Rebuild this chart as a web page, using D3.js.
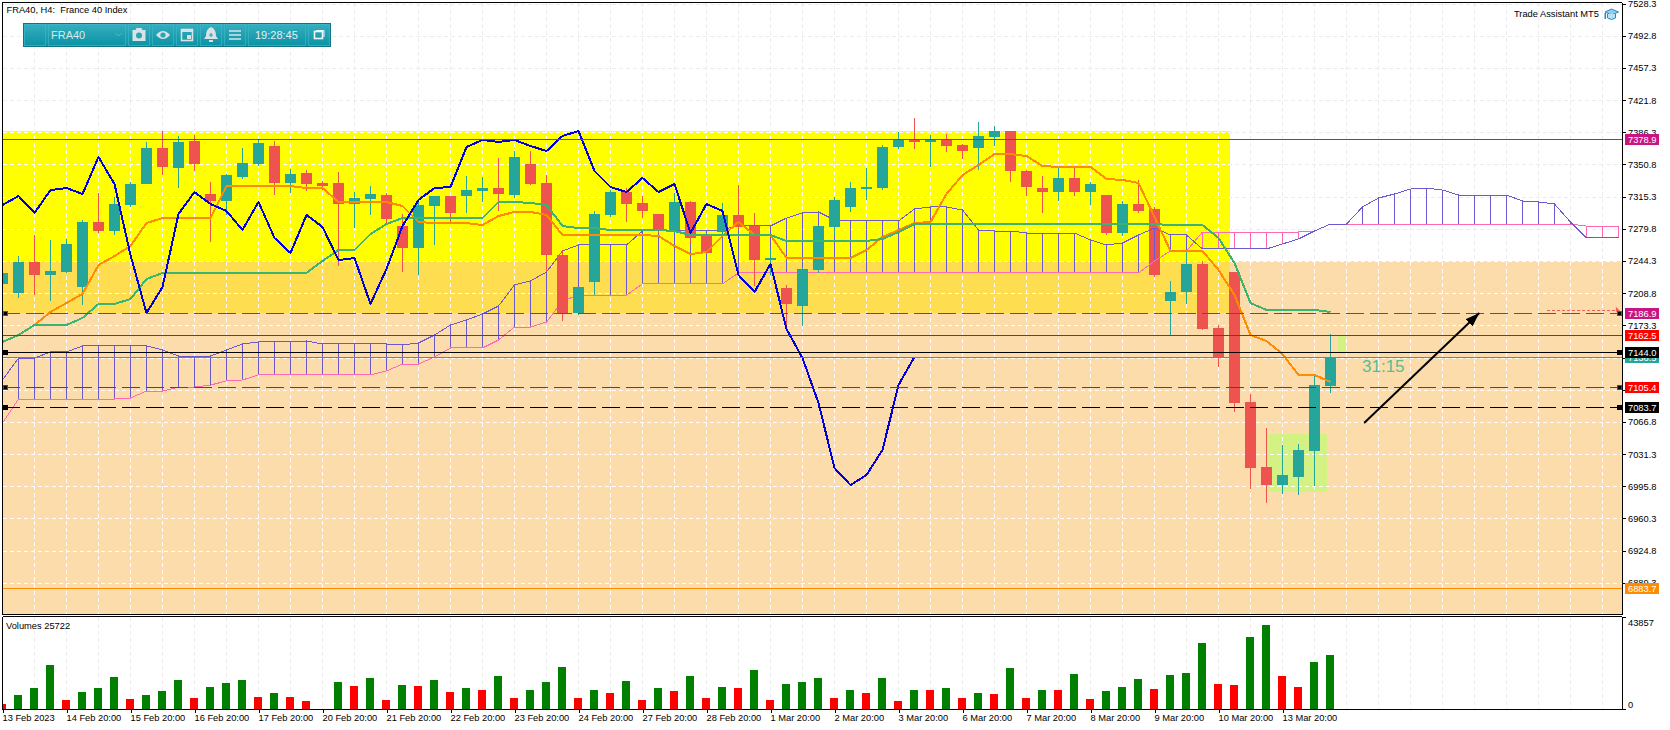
<!DOCTYPE html>
<html><head><meta charset="utf-8"><style>
html,body{margin:0;padding:0;background:#fff}
svg{display:block}
text{font-family:"Liberation Sans",Arial,sans-serif;font-size:9.3px;fill:#000}
</style>
<script src="https://cdn.jsdelivr.net/npm/d3@7"></script></head><body><div id="c"></div>
<script>
const opens=[7218.9,7209.0,7243.2,7228.9,7232.2,7215.6,7287.3,7277.4,7306.1,7329.2,7369.0,7346.9,7376.7,7318.2,7310.5,7337.0,7351.3,7371.2,7330.4,7341.4,7330.4,7330.4,7307.2,7312.7,7317.1,7282.9,7258.7,7305.0,7316.0,7316.0,7321.5,7324.8,7317.1,7351.3,7330.4,7250.9,7186.9,7221.2,7295.1,7320.4,7308.3,7296.2,7278.5,7309.4,7273.0,7276.3,7295.1,7282.9,7245.4,7214.5,7194.7,7234.4,7281.8,7303.9,7323.7,7324.8,7370.1,7377.8,7375.6,7377.8,7372.3,7369.0,7381.1,7387.7,7343.6,7324.8,7320.4,7335.9,7320.4,7317.1,7275.2,7307.2,7301.7,7200.2,7210.1,7241.0,7170.4,7232.2,7088.8,7017.1,6997.2,7006.1,7034.8,7106.4];
const closes=[7231.1,7243.2,7228.9,7233.3,7263.1,7287.3,7277.4,7307.2,7329.2,7369.0,7348.0,7375.6,7351.3,7310.5,7339.2,7352.4,7374.5,7330.4,7340.3,7329.2,7327.0,7307.2,7313.8,7318.2,7290.6,7258.7,7306.1,7316.0,7297.3,7322.6,7324.8,7318.2,7359.0,7329.2,7250.9,7186.9,7215.6,7296.2,7320.4,7307.2,7299.5,7278.5,7309.4,7269.7,7253.1,7295.1,7281.8,7245.4,7247.6,7196.9,7235.5,7282.9,7311.6,7324.8,7325.9,7370.1,7377.8,7375.6,7377.8,7371.2,7365.6,7382.2,7387.7,7343.6,7325.9,7320.4,7335.9,7320.4,7329.2,7275.2,7307.2,7299.5,7228.9,7210.1,7241.0,7169.3,7137.3,7087.7,7016.0,6997.2,7008.3,7035.9,7107.5,7138.5];
const highs=[7236.6,7249.8,7273.0,7267.5,7268.6,7289.5,7319.3,7314.9,7331.5,7375.6,7387.7,7382.2,7383.3,7331.5,7340.3,7369.0,7377.8,7376.7,7345.8,7344.7,7332.6,7342.5,7320.4,7327.0,7319.3,7296.2,7311.6,7316.0,7316.0,7338.1,7337.0,7357.9,7365.6,7365.6,7339.2,7256.5,7215.6,7299.5,7322.6,7324.8,7316.0,7296.2,7319.3,7310.5,7273.0,7308.3,7328.1,7297.3,7256.5,7217.9,7237.7,7282.9,7314.9,7331.5,7346.9,7372.3,7386.6,7402.0,7383.3,7384.4,7373.4,7397.6,7393.2,7387.7,7344.7,7338.1,7346.9,7346.9,7331.5,7317.1,7310.5,7333.7,7303.9,7222.3,7254.2,7244.3,7173.7,7232.2,7097.6,7060.1,7041.4,7042.5,7117.5,7163.8];
const lows=[7214.5,7203.5,7206.8,7200.2,7231.1,7195.8,7275.2,7273.0,7303.9,7329.2,7339.2,7324.8,7343.6,7265.3,7295.1,7334.8,7349.1,7317.1,7319.3,7321.5,7322.6,7238.8,7280.7,7295.1,7285.1,7232.2,7228.9,7262.0,7287.3,7297.3,7309.4,7299.5,7313.8,7328.1,7232.2,7178.1,7184.8,7206.8,7292.8,7287.3,7291.7,7275.2,7275.2,7264.2,7253.1,7275.2,7278.5,7216.7,7228.9,7172.6,7172.6,7231.1,7273.0,7298.4,7311.6,7322.6,7367.9,7367.9,7348.0,7364.5,7356.8,7344.7,7371.2,7331.5,7316.0,7297.3,7310.5,7316.0,7306.1,7273.0,7271.9,7297.3,7226.7,7162.7,7196.9,7168.2,7127.4,7077.8,6992.8,6977.4,6987.3,6986.2,6996.1,7098.7];
const tenkan=[7155.0,7162.7,7173.7,7188.1,7198.0,7208.0,7239.9,7249.8,7260.9,7286.2,7291.7,7291.7,7291.7,7291.7,7327.0,7327.0,7327.0,7327.0,7327.0,7324.8,7324.8,7309.4,7309.4,7309.4,7309.4,7305.0,7287.3,7286.2,7286.2,7286.2,7284.0,7293.9,7298.4,7298.4,7295.1,7273.0,7273.0,7273.0,7273.0,7273.0,7273.0,7271.9,7260.9,7252.0,7254.2,7271.9,7287.3,7273.0,7273.0,7247.6,7247.6,7247.6,7247.6,7247.6,7256.5,7270.8,7278.5,7286.2,7287.3,7318.2,7339.2,7350.2,7362.3,7362.3,7360.1,7349.1,7348.0,7348.0,7348.0,7334.8,7333.7,7330.4,7292.8,7255.4,7255.4,7255.4,7234.4,7206.8,7162.7,7156.1,7141.7,7118.6,7118.6,7110.9];
const kijun=[7155.0,7162.7,7173.7,7173.7,7173.7,7181.5,7196.9,7196.9,7202.4,7224.4,7231.1,7231.1,7231.1,7231.1,7231.1,7231.1,7231.1,7231.1,7231.1,7231.1,7244.3,7256.5,7256.5,7274.1,7285.1,7291.7,7291.7,7291.7,7291.7,7291.7,7291.7,7309.4,7309.4,7308.3,7306.1,7282.9,7280.7,7280.7,7278.5,7278.5,7278.5,7278.5,7277.4,7273.0,7273.0,7273.0,7273.0,7273.0,7273.0,7266.4,7266.4,7266.4,7266.4,7266.4,7266.4,7268.6,7276.3,7285.1,7285.1,7285.1,7285.1,7285.1,7285.1,7285.1,7285.1,7285.1,7285.1,7285.1,7285.1,7285.1,7285.1,7285.1,7285.1,7284.0,7284.0,7284.0,7269.7,7242.1,7198.0,7190.3,7190.3,7190.3,7190.3,7188.1];
const chikou=[7306.1,7316.0,7297.3,7322.6,7324.8,7318.2,7359.0,7329.2,7250.9,7186.9,7215.6,7296.2,7320.4,7307.2,7299.5,7278.5,7309.4,7269.7,7253.1,7295.1,7281.8,7245.4,7247.6,7196.9,7235.5,7282.9,7311.6,7324.8,7325.9,7370.1,7377.8,7375.6,7377.8,7371.2,7365.6,7382.2,7387.7,7343.6,7325.9,7320.4,7335.9,7320.4,7329.2,7275.2,7307.2,7299.5,7228.9,7210.1,7241.0,7169.3,7137.3,7087.7,7016.0,6997.2,7008.3,7035.9,7107.5,7138.5];
const senkouA=[7113.1,7137.3,7137.3,7144.0,7144.0,7150.6,7150.6,7150.6,7150.6,7150.6,7146.2,7139.5,7139.5,7139.5,7146.2,7152.8,7155.0,7155.0,7155.0,7156.1,7152.8,7152.8,7152.8,7152.8,7152.8,7151.7,7153.9,7162.7,7173.7,7179.2,7185.9,7194.7,7217.9,7222.3,7232.2,7255.4,7262.0,7262.0,7262.0,7262.0,7277.4,7278.5,7278.5,7278.5,7278.5,7278.5,7284.0,7284.0,7282.9,7291.7,7297.3,7298.4,7289.5,7289.5,7289.5,7289.5,7288.4,7301.7,7303.9,7303.9,7300.6,7278.5,7277.4,7277.4,7275.2,7275.2,7275.2,7275.2,7267.5,7262.0,7264.2,7273.0,7280.7,7273.0,7273.0,7257.6,7257.6,7257.6,7257.6,7257.6,7263.1,7268.6,7277.4,7285.1,7285.1,7303.9,7313.8,7318.2,7323.7,7324.8,7322.6,7317.1,7317.1,7317.1,7317.1,7310.5,7309.4,7307.2,7287.3,7269.7,7269.7,7269.7];
const senkouB=[7065.6,7092.1,7092.1,7092.1,7092.1,7092.1,7092.1,7092.1,7093.2,7100.9,7100.9,7105.3,7105.3,7107.5,7112.0,7113.1,7118.6,7118.6,7118.6,7118.6,7118.6,7118.6,7118.6,7118.6,7123.0,7130.7,7130.7,7138.4,7148.4,7148.4,7148.4,7157.2,7171.5,7171.5,7177.0,7200.2,7206.8,7206.8,7206.8,7206.8,7219.1,7219.1,7219.1,7219.1,7219.1,7219.1,7231.1,7231.1,7231.1,7231.1,7231.1,7231.1,7231.1,7231.1,7231.1,7231.1,7231.1,7231.1,7231.1,7231.1,7231.1,7231.1,7231.1,7231.1,7231.1,7231.1,7231.1,7231.1,7231.1,7231.1,7231.1,7231.1,7244.3,7255.4,7255.4,7276.3,7276.3,7276.3,7276.3,7276.3,7276.3,7276.3,7277.4,7285.1,7285.1,7285.1,7285.1,7285.1,7285.1,7285.1,7285.1,7285.1,7285.1,7285.1,7285.1,7285.1,7285.1,7285.1,7285.1,7282.9,7282.9,7282.9];
const volumes=[2388,6686,10030,21014,4298,8119,10030,15283,4776,6686,8597,13850,5254,10507,12418,13850,5731,7642,5731,3821,0,12895,10985,14806,4298,11462,10985,13850,8119,10030,9074,15761,5254,9074,12895,20059,5254,9074,7642,13373,4298,10030,8597,15761,5254,10507,10030,18626,4298,11940,12895,14806,5254,9074,7642,14806,3821,9074,9074,10030,5254,7642,7164,19582,5254,9074,9074,16716,4776,8597,10507,14328,9552,16238,17194,31522,11940,11462,34387,40118,15761,10507,22447,25722];
const volumeDown=[0,4,8,12,16,18,19,22,24,26,28,30,32,36,38,40,42,44,46,48,52,54,56,58,60,62,64,66,68,72,76,77,80,81];
const priceTicks=[7528.3,7492.8,7457.3,7421.8,7386.3,7350.8,7315.3,7279.8,7244.3,7208.8,7173.3,7137.8,7102.3,7066.8,7031.3,6995.8,6960.3,6924.8,6889.3];
const volumeTicks=[0,43857];
const dateTickIdx=[0,4,8,12,16,20,24,28,32,36,40,44,48,52,56,60,64,68,72,76,80];
const dateLabels=["13 Feb 2023","14 Feb 20:00","15 Feb 20:00","16 Feb 20:00","17 Feb 20:00","20 Feb 20:00","21 Feb 20:00","22 Feb 20:00","23 Feb 20:00","24 Feb 20:00","27 Feb 20:00","28 Feb 20:00","1 Mar 20:00","2 Mar 20:00","3 Mar 20:00","6 Mar 20:00","7 Mar 20:00","8 Mar 20:00","9 Mar 20:00","10 Mar 20:00","13 Mar 20:00"];
const levelValues=[7378.9,7186.9,7162.5,7138.5,7144.0,7105.4,7083.7,6883.7];
const levelColors=["#C71585","#C71585","#FF0000","#26A69A","#000000","#FF0000","#000000","#FF8C00"];
const levelDashed=[false,true,false,false,false,true,true,false];
const markerLevels=[7186.9,7144.0,7105.4,7083.7];
const markerBorders=["#C71585","#000000","#FF0000","#000000"];
const yellowZone=[7387.7,7186.9], beigeZone=[7244.3,6855];
const yellowEndIdx=76.72;
const boxIdx=[79.03,82.78], boxPrice=[7053.5,6989.9];
const timerIdx=[83.48,83.92], timerPrice=[7161.6,7141.7];
const arrowIdx=[85.1,92.3], arrowPrice=[7065.6,7186.9];
const dotIdx=[96.5,100.9], dotPrice=7189.5;

const W=1670,H=730,L=2.5,R=1622,T=2.5,B=614.5,VT=616.5,VB=709.5;
const x=d3.scaleLinear().domain([0,1]).range([2.5,18.5]);
const y=d3.scaleLinear().domain([7532.2,6855]).range([0,(7532.2-6855)/1.103]);
const v=d3.scaleLinear().domain([0,43857]).range([709,617]);
const n=closes.length;
const svg=d3.select("#c").append("svg").attr("width",W).attr("height",H);
const defs=svg.append("defs");
defs.append("clipPath").attr("id","m").append("rect").attr("x",L).attr("y",T).attr("width",R-L).attr("height",B-T);
defs.append("clipPath").attr("id","vp").append("rect").attr("x",L).attr("y",VT).attr("width",R-L).attr("height",VB-VT);
const zc=defs.append("clipPath").attr("id","zones");
zc.append("rect").attr("x",L).attr("y",y(yellowZone[0])).attr("width",x(yellowEndIdx)-L).attr("height",y(yellowZone[1])-y(yellowZone[0]));
zc.append("rect").attr("x",L).attr("y",y(beigeZone[0])).attr("width",R-L).attr("height",y(beigeZone[1])-y(beigeZone[0]));
const grad=defs.append("linearGradient").attr("id","tb").attr("x1",0).attr("y1",0).attr("x2",0).attr("y2",1);
grad.append("stop").attr("offset",0).attr("stop-color","#36aebf");
grad.append("stop").attr("offset",1).attr("stop-color","#0a93a6");
const mk=defs.append("marker").attr("id","ah").attr("markerUnits","userSpaceOnUse").attr("markerWidth",16).attr("markerHeight",12).attr("refX",14).attr("refY",5).attr("orient","auto");
mk.append("path").attr("d",d3.line()([[0,0],[14,5],[0,10]])).attr("fill","#000");

const m=svg.append("g").attr("clip-path","url(#m)");
const rect=(g,x0,x1,y0,y1,c)=>g.append("rect").attr("x",x0).attr("y",y0).attr("width",x1-x0).attr("height",y1-y0).attr("fill",c).attr("shape-rendering","crispEdges");
rect(m,L,x(yellowEndIdx),y(yellowZone[0]),y(yellowZone[1]),"#FFFF00");
rect(m,L,R,y(beigeZone[0]),y(beigeZone[1]),"#FDDCAB");
rect(m,L,x(yellowEndIdx),y(beigeZone[0]),y(yellowZone[1]),"#FFDD50");
rect(m,x(boxIdx[0]),x(boxIdx[1]),y(boxPrice[0]),y(boxPrice[1]),"#D4F284");
rect(m,x(timerIdx[0]),x(timerIdx[1]),y(timerPrice[0]),y(timerPrice[1]),"#D4F284");

// grid: light grey on white, white over the coloured zones
const gridIdx=d3.range(2,102,2);
function grid(parent,color){
 const g=parent.append("g").attr("stroke",color).attr("stroke-dasharray","4,3").attr("shape-rendering","crispEdges");
 g.selectAll(".gv").data(gridIdx).join("line").attr("x1",d=>x(d)).attr("x2",d=>x(d)).attr("y1",T).attr("y2",B);
 g.selectAll(".gh").data(priceTicks).join("line").attr("x1",L).attr("x2",R).attr("y1",d=>Math.round(y(d))+.5).attr("y2",d=>Math.round(y(d))+.5);
}
grid(m,"#ececec");
grid(m.append("g").attr("clip-path","url(#zones)"),"#ffffff");
svg.append("g").attr("stroke","#ececec").attr("stroke-dasharray","4,3").attr("shape-rendering","crispEdges")
 .selectAll("line").data(gridIdx).join("line").attr("x1",d=>x(d)).attr("x2",d=>x(d)).attr("y1",VT).attr("y2",VB);

function candles(g,idx){
 const c=i=>closes[i]>=opens[i]?"#26A69A":"#EF5350";
 g.selectAll(".w").data(idx).join("rect").attr("class","w").attr("x",i=>x(i)-.5).attr("width",1).attr("y",i=>y(highs[i])).attr("height",i=>y(lows[i])-y(highs[i])).attr("fill",c).attr("shape-rendering","crispEdges");
 g.selectAll(".b").data(idx).join("rect").attr("class","b").attr("x",i=>x(i)-5.5).attr("width",11).attr("y",i=>y(Math.max(opens[i],closes[i]))).attr("height",i=>Math.abs(y(opens[i])-y(closes[i]))).attr("fill",c).attr("shape-rendering","crispEdges");
}
candles(m.append("g"),[72]);
// cloud
const cloud=m.append("g");
cloud.selectAll("line").data(d3.range(senkouA.length)).join("line")
 .attr("x1",i=>x(i)).attr("x2",i=>x(i)).attr("y1",i=>y(senkouA[i])).attr("y2",i=>y(senkouB[i]))
 .attr("stroke",i=>senkouA[i]>=senkouB[i]?"#6A5ACD":"#FF69B4").attr("stroke-width",1).attr("shape-rendering","crispEdges");
const ln=d3.line().x((d,i)=>x(i)).y(d=>y(d));
const path=(g,d,c,w)=>g.append("path").attr("d",ln(d)).attr("fill","none").attr("stroke",c).attr("stroke-width",w).attr("stroke-linejoin","round").attr("shape-rendering","crispEdges");
path(cloud,senkouB,"#FF69B4",1);
path(cloud,senkouA,"#6A5ACD",1);
candles(m.append("g"),d3.range(n).filter(i=>i!==72));
path(m,tenkan,"#FF8C00",2);
path(m,kijun,"#3CB371",2);
path(m,chikou,"#0000E0",2);

// horizontal levels
m.append("g").selectAll("line").data(levelValues).join("line").attr("x1",2).attr("x2",R)
 .attr("y1",d=>Math.round(y(d))+.5).attr("y2",d=>Math.round(y(d))+.5)
 .attr("stroke",(d,i)=>levelColors[i]).attr("stroke-dasharray",(d,i)=>levelDashed[i]?"18,6":null).attr("shape-rendering","crispEdges");
// arrows & timer
m.append("line").attr("x1",x(arrowIdx[0])).attr("y1",y(arrowPrice[0])).attr("x2",x(arrowIdx[1])).attr("y2",y(arrowPrice[1])).attr("stroke","#000").attr("stroke-width",2).attr("marker-end","url(#ah)");
m.append("line").attr("x1",x(dotIdx[0])).attr("x2",x(dotIdx[1])).attr("y1",y(dotPrice)).attr("y2",y(dotPrice)).attr("stroke","#F0605A").attr("stroke-dasharray","3,2").attr("shape-rendering","crispEdges");
m.append("path").attr("d",d3.line()([[x(dotIdx[1])-1,y(dotPrice)-4],[x(dotIdx[1])+4,y(dotPrice)+1],[x(dotIdx[1])-1,y(dotPrice)+1]])).attr("fill","#F0605A");
m.append("text").attr("x",1362).attr("y",372).style("font-size","17px").style("fill","#57bd94").text("31:15");
// markers
[3,1617].forEach(mx=>{
 m.append("g").selectAll("rect").data(markerLevels).join("rect").attr("x",mx+.5).attr("width",4).attr("height",4)
  .attr("y",d=>Math.round(y(d))-1.5).attr("fill","#000").attr("stroke",(d,i)=>markerBorders[i]).attr("shape-rendering","crispEdges");
});

// volumes
svg.append("g").attr("clip-path","url(#vp)").selectAll("rect").data(volumes).join("rect")
 .attr("x",(d,i)=>x(i)-4.5).attr("width",8).attr("y",d=>v(d)).attr("height",d=>v(0)-v(d)+.5)
 .attr("fill",(d,i)=>volumeDown.includes(i)?"#FF0000":"#008000").attr("shape-rendering","crispEdges");

// frames
const fr=svg.append("g").attr("stroke","#000").attr("fill","none").attr("shape-rendering","crispEdges");
fr.append("path").attr("d",`M${L},${B}V${T}H${R}`).attr("stroke-width",1);
fr.append("path").attr("d",`M${L},${B}H${R}M${L},${VT}H${R}M${L},${VT}V${VB}`);

// axes
const styleAxis=g=>{g.selectAll("text").style("font-size","9.3px");g.selectAll("path,line").attr("stroke","#000").attr("shape-rendering","crispEdges");};
svg.append("g").attr("transform",`translate(${R},0)`).call(d3.axisRight(y).tickValues(priceTicks).tickFormat(d3.format(".1f")).tickSize(4).tickPadding(2)).call(styleAxis).call(g=>{g.select(".domain").attr("d",`M0.5,${T}V${B}`)});
svg.append("g").attr("transform",`translate(${R},0)`).call(d3.axisRight(v).tickValues(volumeTicks).tickFormat(d3.format("d")).tickSize(4).tickPadding(2)).call(styleAxis)
 .call(g=>{g.select(".domain").attr("d",`M0.5,${VT}V${VB}`);g.selectAll("text").attr("dy",d=>d===0?"-2px":"8px")});
svg.append("g").attr("transform",`translate(0,${VB-.5})`).call(d3.axisBottom(x).tickValues(dateTickIdx).tickFormat((d,i)=>dateLabels[i]).tickSize(4).tickPadding(1)).call(styleAxis)
 .call(g=>{g.select(".domain").attr("d",`M${L},0.5H${R+.5}`);g.selectAll("text").attr("text-anchor","start").attr("dx",-0.5)});

// level labels
const lab=svg.append("g");
levelValues.forEach((d,i)=>{
 const yy=Math.round(y(d));
 lab.append("rect").attr("x",1625).attr("y",yy-5).attr("width",34).attr("height",11).attr("fill",levelColors[i]).attr("shape-rendering","crispEdges");
 lab.append("text").attr("x",1628).attr("y",yy+3.8).style("fill","#fff").text(d3.format(".1f")(d));
});

// texts
svg.append("text").attr("x",6.5).attr("y",13).text("FRA40, H4:\u00a0 France 40 Index");
svg.append("text").attr("x",1514).attr("y",17).text("Trade Assistant MT5");
svg.append("text").attr("x",6).attr("y",628.5).text("Volumes 25722");
// cap icon
const cap=svg.append("g").attr("transform","translate(1604,8)");
cap.append("path").attr("d","M1,4 L7.5,1 L14.5,4 L7.5,7 Z").attr("fill","#8ccdf0").attr("stroke","#2b86c5");
cap.append("path").attr("d","M3.5,6 V10 Q7.5,13 11.5,10 V6").attr("fill","#b7e0f5").attr("stroke","#2b86c5");
cap.append("rect").attr("x",0.5).attr("y",5).attr("width",1.5).attr("height",6).attr("fill","#2b86c5");

// toolbar
const tb=svg.append("g");
tb.append("rect").attr("x",23.5).attr("y",23.5).attr("width",307).attr("height",23).attr("fill","url(#tb)").attr("stroke","#0e7484");
const btn=(a,b)=>tb.append("rect").attr("x",a+.5).attr("y",24.5).attr("width",b-a-1).attr("height",21).attr("fill","url(#tb)").attr("stroke","#3fb6c4").attr("stroke-opacity",.7);
[[24,46],[48,126],[128,150],[152,174],[176,198],[200,222],[224,246],[248,306],[308,330]].forEach(p=>btn(p[0],p[1]));
const ic="#d9e3e5";
const tt=(xx,s,col,sz)=>tb.append("text").attr("x",xx).attr("y",39).style("font-size",sz+"px").style("fill",col).text(s);
tt(51,"FRA40","#d9e9ec",11);
tt(255,"19:28:45","#e3eff1",11);
tb.append("path").attr("d","M115.5,33 L118.5,36 L121.5,33").attr("fill","none").attr("stroke","#5cb5c2");
// camera
tb.append("path").attr("d","M132.5,30h3l1-2h5l1,2h3v11h-13z").attr("fill",ic);
tb.append("circle").attr("cx",139).attr("cy",35.5).attr("r",3).attr("fill","#2aa5b5");
// eye
tb.append("path").attr("d","M156,35 Q163,27 170,35 Q163,43 156,35Z").attr("fill",ic);
tb.append("circle").attr("cx",163).attr("cy",35).attr("r",2.6).attr("fill","#2aa5b5");
// calendar
tb.append("rect").attr("x",181.5).attr("y",29.5).attr("width",11).attr("height",11).attr("fill","none").attr("stroke",ic).attr("stroke-width",1.6);
tb.append("rect").attr("x",181).attr("y",29).attr("width",12).attr("height",3).attr("fill",ic);
tb.append("rect").attr("x",187).attr("y",35).attr("width",4).attr("height",4).attr("fill",ic);
// bell
tb.append("path").attr("d","M211,27 Q206,29 206,36 L204,39 H218 L216,36 Q216,29 211,27Z").attr("fill",ic);
tb.append("path").attr("d","M209,35H213M211,33V37").attr("stroke","#2aa5b5").attr("stroke-width",1.2);
tb.append("rect").attr("x",209).attr("y",40).attr("width",4).attr("height",2).attr("fill",ic);
// menu
tb.append("path").attr("d","M229,31H241M229,35H241M229,39H241").attr("stroke",ic).attr("stroke-width",1.6);
// restore
tb.append("rect").attr("x",314.5).attr("y",31.5).attr("width",8).attr("height",7).attr("fill","none").attr("stroke","#eef5f6").attr("stroke-width",1.6);
tb.append("path").attr("d","M316,30.5H324V37").attr("fill","none").attr("stroke","#eef5f6");
</script></body></html>
